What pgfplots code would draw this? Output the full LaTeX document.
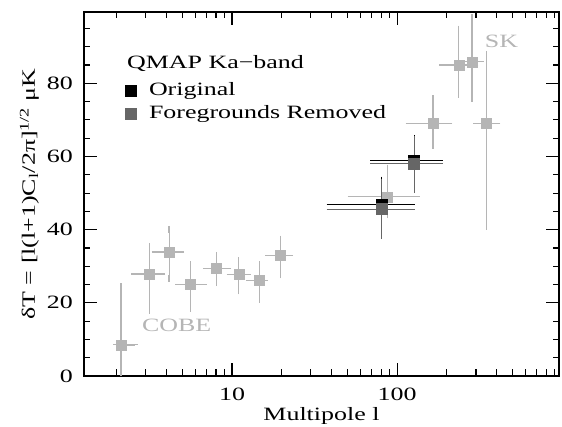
\documentclass[border=0pt]{standalone}
\usepackage{fontspec}
\setmainfont{Liberation Serif}[FakeStretch=1.38]
\usepackage{pgfplots}
\usepackage{pgfplotstable}
\pgfplotsset{compat=1.18}
\definecolor{lgray}{gray}{0.71}
\definecolor{dgray}{gray}{0.40}

\pgfplotstableread{
x y xm xp ym yp
2.13 8.5 0.13 0.44 8.5 15.9
3.15 27.9 0.58 0.61 10.0 7.6
4.16 33.9 0.74 0.74 7.3 6.2
5.62 25.1 0.89 1.08 6.7 5.3
8.07 29.4 1.10 1.39 3.9 3.6
11.0 27.7 1.28 1.40 4.5 3.9
14.6 26.1 1.80 1.20 5.2 4.4
19.6 33.0 2.90 2.80 5.4 4.5
87.5 49.0 35 43.5 5.0 7.9
165 69.0 47 41.5 6.0 6.8
236 85.0 48 60 8.0 9.9
284 85.9 32 36 10.1 12.1
347 69.0 45 56 28.1 19.0
}\other

\pgfplotstableread{
x y xm xp ym yp
80.5 46.8 41 40.5 7.2 6.6
126.8 58.9 54 52 7.3 5.9
}\orig

\pgfplotstableread{
x y xm xp ym yp
80.5 45.6 41 40.5 7.1 7.2
126.8 58.0 54 52 6.9 6.4
}\fgr

\begin{document}
\fontsize{18.8}{22}\selectfont
\begin{tikzpicture}
\begin{axis}[
  name=ax,
  scale only axis, width=475pt, height=364pt,
  xmode=log, xmin=1.27, xmax=955, ymin=0, ymax=99.5,
  axis line style={line width=1.1pt},
  every tick/.style={line width=1.1pt, black},
  major tick length=13pt, minor tick length=6.5pt,
  tick align=inside,
  xtick={10,100}, xticklabels={10,100},
  minor xtick={2,3,4,5,6,7,8,9,20,30,40,50,60,70,80,90,200,300,400,500,600,700,800,900},
  ytick={0,20,40,60,80}, minor ytick={5,10,15,25,30,35,45,50,55,65,70,75,85,90,95},
  /pgf/number format/assume math mode=true,
  xticklabel style={anchor=base, inner sep=0pt, yshift=-25pt},
  yticklabel style={anchor=east, inner sep=0pt, xshift=-11pt},
  xlabel={Multipole l},
  xlabel style={at={(rel axis cs:0.5,0)}, anchor=base, inner sep=0pt, yshift=-45pt},
  legend style={draw=none, fill=none, at={(rel axis cs:0.0874,0.812)}, anchor=north west,
    inner sep=0pt, outer sep=0pt, row sep=3.5pt, nodes={inner sep=2pt}},
  legend cell align=left,
  legend image code/.code={\path[draw=none, fill=none] (0pt,0pt) -- (21pt,0pt); \draw[#1] plot coordinates {(5pt,0pt)};},
]
\addplot[forget plot, only marks, mark=square*, mark size=5pt, color=lgray,
  error bars/.cd, x dir=both, x explicit, y dir=both, y explicit,
  error bar style={line width=1.2pt, lgray},
  error mark options={line width=1.2pt, mark size=3.3pt, lgray}]
  table[x=x, y=y, x error plus=xp, x error minus=xm, y error plus=yp, y error minus=ym] {\other};
\addplot[only marks, mark=square*, mark size=5.5pt, color=black,
  error bars/.cd, x dir=both, x explicit, y dir=both, y explicit,
  error bar style={line width=1.1pt, black},
  error mark options={line width=1.1pt, mark size=4pt, black}]
  table[x=x, y=y, x error plus=xp, x error minus=xm, y error plus=yp, y error minus=ym] {\orig};
\addlegendentry{Original}
\addplot[only marks, mark=square*, mark size=5.5pt, color=dgray,
  error bars/.cd, x dir=both, x explicit, y dir=both, y explicit,
  error bar style={line width=1.1pt, dgray},
  error mark options={line width=1.1pt, mark size=4pt, dgray}]
  table[x=x, y=y, x error plus=xp, x error minus=xm, y error plus=yp, y error minus=ym] {\fgr};
\addlegendentry{Foregrounds Removed}
\node[anchor=base west, inner sep=0pt] at (rel axis cs:0.0905,0.846) {QMAP Ka−band};
\node[color=lgray, inner sep=0pt] at (rel axis cs:0.195,0.140) {COBE};
\node[color=lgray, inner sep=0pt] at (rel axis cs:0.879,0.918) {SK};
\end{axis}
\path (ax.west) ++(-49pt,0pt) node[rotate=90, anchor=base, inner sep=0pt] {δT = [l(l+1)C\textsubscript{l}/2π]\textsuperscript{1/2} μK};
\pgfresetboundingbox
\path (ax.south west) ++(-84pt,-51pt) rectangle ++(562pt,427pt);
\end{tikzpicture}
\end{document}
